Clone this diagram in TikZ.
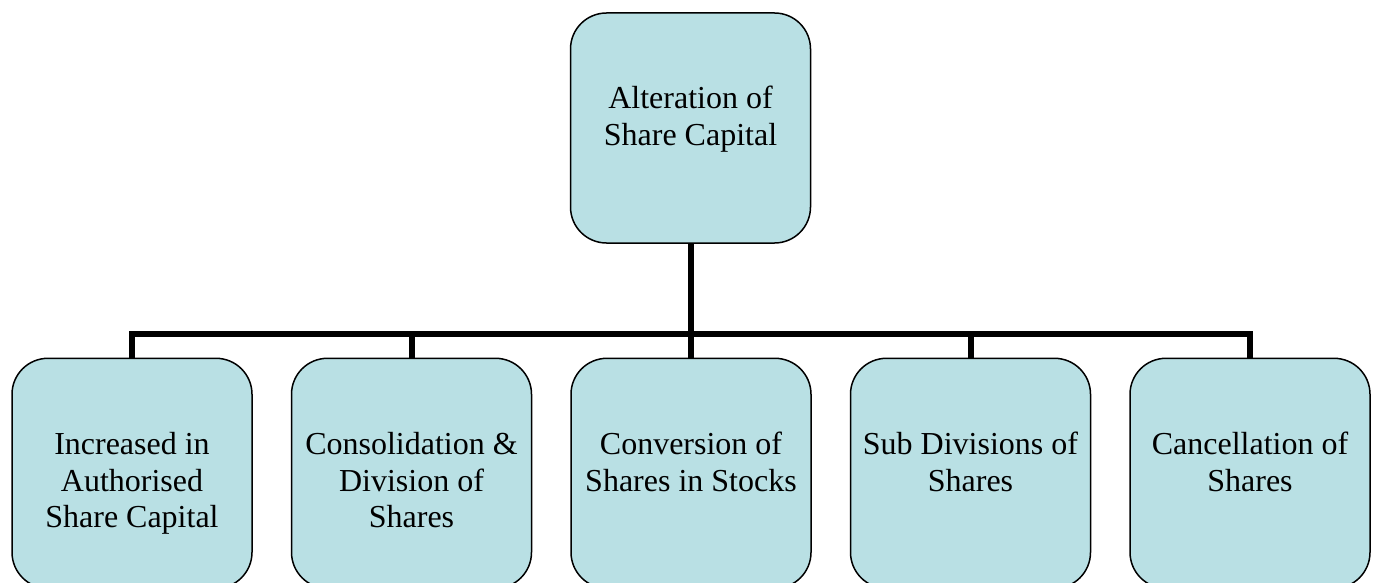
\documentclass[tikz,border=0pt]{standalone}
\usepackage{fontspec}
\setmainfont{Liberation Serif}
\definecolor{boxfill}{RGB}{185,224,228}
\newcommand{\boxtext}[1]{\begin{minipage}[c][230pt][t]{240pt}\centering\fontsize{32pt}{36.8pt}\selectfont\rule{0pt}{96pt}#1\par\end{minipage}}
\tikzset{
  orgbox/.style={draw=black, line width=1.5pt, fill=boxfill, rounded corners=36pt, inner sep=0pt, outer sep=0pt},
  conn/.style={draw=black, line width=6pt, line join=miter}
}
\begin{document}
\begin{tikzpicture}[x=1pt,y=1pt]
\useasboundingbox (0,-583) rectangle (1375,0);
\clip (0,-583) rectangle (1375,0);
\fill[white] (0,-583) rectangle (1375,0);
\coordinate (bar) at (690.5,-334);
\node[orgbox] (top) at (690.5,-128) {\boxtext{Alteration of\\Share Capital}};
\node[orgbox] (b1) at (132,-473.3) {\boxtext{Increased in\\Authorised\\Share Capital}};
\node[orgbox] (b2) at (411.5,-473.3) {\boxtext{Consolidation \&\\Division of\\Shares}};
\node[orgbox] (b3) at (691,-473.3) {\boxtext{Conversion of\\Shares in Stocks}};
\node[orgbox] (b4) at (970.5,-473.3) {\boxtext{Sub Divisions of\\Shares}};
\node[orgbox] (b5) at (1250,-473.3) {\boxtext{Cancellation of\\Shares}};
\begin{scope}[on background layer/.try]
\end{scope}
\draw[conn] (top.south) -- (bar);
\draw[conn] (bar) -| (b1.north);
\draw[conn] (bar) -| (b2.north);
\draw[conn] (bar) -| (b3.north);
\draw[conn] (bar) -| (b4.north);
\draw[conn] (bar) -| (b5.north);
\end{tikzpicture}
\end{document}
